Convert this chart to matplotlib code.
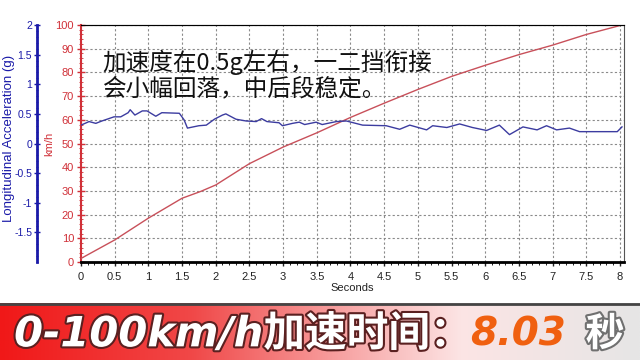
import numpy as np
import matplotlib
matplotlib.use('Agg')
import matplotlib.pyplot as plt
import matplotlib.patheffects as pe
from matplotlib.colors import LinearSegmentedColormap
from matplotlib.ticker import MultipleLocator

plt.rcParams['font.family'] = ['Liberation Sans', 'Noto Sans CJK SC', 'DejaVu Sans']

# speed trace (km/h)
speed_t = [0, 0.5, 1.0, 1.5, 1.77, 2.0, 2.5, 3.0, 3.5, 4.0, 4.5, 5.0, 5.5, 6.0, 6.5, 7.0, 7.5, 8.03]
speed_v = [1.5, 9.3, 18.5, 26.9, 29.7, 32.5, 41.5, 48.5, 54.5, 61, 67, 72.8, 78.3, 83, 87.5, 91.5, 96, 100]

# longitudinal acceleration trace (g)
acc_t = [0.00, 0.12, 0.22, 0.31, 0.49, 0.59, 0.70, 0.73, 0.80, 0.91, 0.98, 1.11, 1.20, 1.46, 1.53,
         1.58, 1.75, 1.86, 1.98, 2.10, 2.15, 2.30, 2.45, 2.60, 2.68, 2.76, 2.94, 2.99, 3.14, 3.24,
         3.32, 3.49, 3.58, 3.79, 3.94, 4.18, 4.53, 4.73, 4.88, 5.13, 5.22, 5.43, 5.62, 5.81, 6.02,
         6.21, 6.36, 6.56, 6.77, 6.91, 7.06, 7.25, 7.40, 7.70, 7.96, 8.03]
acc_g = [0.31, 0.37, 0.34, 0.38, 0.45, 0.45, 0.52, 0.57, 0.48, 0.55, 0.55, 0.46, 0.52, 0.51, 0.40,
         0.26, 0.30, 0.31, 0.41, 0.48, 0.50, 0.41, 0.38, 0.37, 0.42, 0.37, 0.35, 0.30, 0.34, 0.36,
         0.32, 0.36, 0.32, 0.37, 0.38, 0.31, 0.30, 0.24, 0.31, 0.23, 0.30, 0.27, 0.33, 0.27, 0.22,
         0.31, 0.15, 0.28, 0.23, 0.30, 0.23, 0.26, 0.20, 0.20, 0.20, 0.28]

x_ticks = np.arange(0, 8.01, 0.5)
x_labels = ['0', '0.5', '1', '1.5', '2', '2.5', '3', '3.5', '4', '4.5', '5', '5.5', '6', '6.5', '7', '7.5', '8']
note = '加速度在0.5g左右，一二挡衔接\n会小幅回落，中后段稳定。'
banner_main = '0-100km/h加速时间：'
banner_value = '8.03'
banner_unit = '秒'

red = '#d03038'
blue = '#1a1aa8'
cjk = ['Noto Sans CJK SC', 'DejaVu Sans']

fig = plt.figure(figsize=(6.4, 3.6), dpi=100)
ax = fig.add_axes([81/640, 1-262/360, 543/640, 237/360])

ax.plot(speed_t, speed_v, color='#c8505a', lw=1.0, zorder=3)
ax.set_xlim(0, 8.06)
ax.set_ylim(0, 100)
ax.set_xticks(x_ticks)
ax.set_xticklabels(x_labels)
ax.xaxis.set_minor_locator(MultipleLocator(0.1))
ax.yaxis.set_major_locator(MultipleLocator(10))
ax.yaxis.set_minor_locator(MultipleLocator(2))
ax.grid(True, color='#8a8a8a', linestyle=(0, (2, 2)), lw=0.8)
ax.tick_params(axis='x', labelsize=8, colors='#222222', length=3, width=1, pad=4)
ax.tick_params(axis='x', which='minor', length=2)
ax.tick_params(axis='y', labelsize=8, colors=red, direction='inout', length=6, width=1, pad=2)
ax.tick_params(axis='y', which='minor', direction='inout', length=3, color=red)
ax.spines['left'].set_color(red)
ax.spines['left'].set_linewidth(1.5)
ax.spines['bottom'].set_linewidth(2)
ax.spines['top'].set_color('#555555')
ax.spines['right'].set_color('#555555')
ax.set_xlabel('Seconds', fontsize=8, color='#222222', labelpad=1)
ax.set_ylabel('km/h', fontsize=8, color=red)
ax.yaxis.set_label_coords(-0.049, 0.5)

ax2 = ax.twinx()
ax2.plot(acc_t, acc_g, color='#3c3ca0', lw=1.0, zorder=3)
ax2.set_ylim(-2, 2)
ax2.yaxis.tick_left()
ax2.yaxis.set_label_position('left')
ax2.spines['left'].set_position(('axes', -0.081))
ax2.spines['left'].set_color(blue)
ax2.spines['left'].set_linewidth(2)
ax2.spines['right'].set_visible(False)
ax2.set_yticks([-1.5, -1, -0.5, 0, 0.5, 1, 1.5, 2])
ax2.set_yticklabels(['-1.5', '-1', '-0.5', '0', '0.5', '1', '1.5', '2'])
ax2.yaxis.set_minor_locator(MultipleLocator(0.1))
ax2.tick_params(axis='y', labelsize=7.5, colors=blue, direction='inout', length=5, width=1, pad=1)
ax2.tick_params(axis='y', which='minor', direction='inout', length=2, color=blue)
ax2.set_ylabel('Longitudinal Acceleration (g)', fontsize=9.5, color=blue)
ax2.yaxis.set_label_coords(-0.121, 0.52)

ax.text(0.04, 0.895, note, transform=ax.transAxes, fontsize=17, color='#111111',
        va='top', ha='left', linespacing=1.12, zorder=5, family=cjk)

# banner at the bottom
bx = fig.add_axes([0, 0, 1, 57/360])
grad = LinearSegmentedColormap.from_list('g', [(0, '#f01818'), (0.3, '#f04848'), (0.55, '#f8a8a8'),
                                                (0.72, '#fce4e4'), (1, '#e6e6e6')])
bx.imshow(np.linspace(0, 1, 256)[None, :], aspect='auto', cmap=grad, extent=[0, 1, 0, 1])
bx.axhline(0.985, color='#444444', lw=2)
bx.set_xlim(0, 1)
bx.set_ylim(0, 1)
bx.axis('off')
outline = [pe.withStroke(linewidth=3, foreground='#5a2020')]
bx.text(0.022, 0.45, banner_main, fontsize=30, fontweight='bold', style='italic', color='white',
        va='center', ha='left', path_effects=outline, family=['DejaVu Sans', 'Noto Sans CJK SC'])
bx.text(0.735, 0.45, banner_value, fontsize=28, fontweight='bold', style='italic', color='#f06010',
        va='center', ha='left', family=['DejaVu Sans'])
bx.text(0.915, 0.45, banner_unit, fontsize=28, fontweight='bold', color='white',
        va='center', ha='left', path_effects=[pe.withStroke(linewidth=3, foreground='#707070')],
        family=cjk)

fig.savefig('out.png', dpi=100)
